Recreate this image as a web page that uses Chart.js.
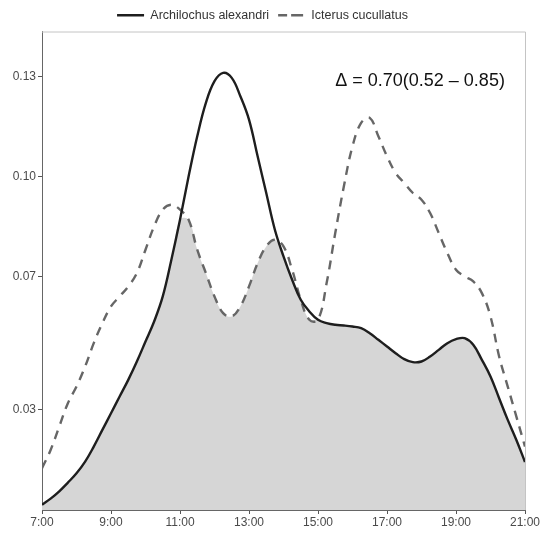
<!DOCTYPE html>
<html>
<head>
<meta charset="utf-8">
<script src="https://cdn.jsdelivr.net/npm/chart.js@4.4.1/dist/chart.umd.min.js"></script>
<style>
  html, body { margin: 0; padding: 0; background: #fff; }
  #wrap { width: 545px; height: 536px; }
</style>
</head>
<body>
<div id="wrap"><canvas id="c"></canvas></div>
<script>
// Heures (grille commune aux deux courbes)
const hours = [
  7, 7.25, 7.5, 7.75, 8, 8.25, 8.5, 8.75, 9, 9.25, 9.5, 9.75,
  10, 10.25, 10.5, 10.75, 11, 11.25, 11.5, 11.75, 12, 12.25, 12.5, 12.75,
  13, 13.25, 13.5, 13.75, 14, 14.25, 14.5, 14.75, 15, 15.25, 15.5, 15.75,
  16, 16.25, 16.5, 16.75, 17, 17.25, 17.5, 17.75, 18, 18.25, 18.5, 18.75,
  19, 19.25, 19.5, 19.75, 20, 20.25, 20.5, 20.75, 21
];

// Densité d'activité - Archilochus alexandri (trait plein)
const archilochus = [
  0.0016, 0.0034, 0.0056, 0.0082, 0.0110, 0.0145, 0.0190, 0.0240, 0.0290, 0.0340, 0.0390, 0.0445,
  0.0505, 0.0565, 0.0640, 0.0750, 0.0870, 0.1000, 0.1120, 0.1220, 0.1285, 0.1310, 0.1295, 0.1240,
  0.1170, 0.1060, 0.0950, 0.0840, 0.0760, 0.0690, 0.0630, 0.0595, 0.0570, 0.0560, 0.0555, 0.0553,
  0.0550, 0.0545, 0.0530, 0.0510, 0.0490, 0.0470, 0.0452, 0.0443, 0.0445, 0.0460, 0.0480, 0.0500,
  0.0512, 0.0515, 0.0495, 0.0450, 0.0400, 0.0335, 0.0270, 0.0210, 0.0144
];

// Densité d'activité - Icterus cucullatus (tirets)
const icterus = [
  0.0125, 0.0180, 0.0250, 0.0320, 0.0370, 0.0430, 0.0500, 0.0560, 0.0610, 0.0640, 0.0670, 0.0710,
  0.0780, 0.0850, 0.0900, 0.0915, 0.0900, 0.0870, 0.0780, 0.0710, 0.0640, 0.0590, 0.0580, 0.0610,
  0.0670, 0.0740, 0.0790, 0.0810, 0.0790, 0.0720, 0.0630, 0.0570, 0.0570, 0.0680, 0.0830, 0.0970,
  0.1090, 0.1160, 0.1175, 0.1120, 0.1060, 0.1010, 0.0980, 0.0950, 0.0930, 0.0890, 0.0830, 0.0770,
  0.0720, 0.0700, 0.0685, 0.0650, 0.0580, 0.0460, 0.0370, 0.0280, 0.0190
];

const seriesNames = ['Archilochus alexandri', 'Icterus cucullatus'];
const yTicks = [0.03, 0.07, 0.10, 0.13];
const xTicks = [7, 9, 11, 13, 15, 17, 19, 21];
const overlapText = '\u0394 = 0.70(0.52 \u2013 0.85)';

// Zone de chevauchement = minimum des deux densités
const overlap = hours.map((h, i) => Math.min(archilochus[i], icterus[i]));
const toPts = arr => hours.map((h, i) => ({ x: h, y: arr[i] }));

const FONT = '"Liberation Sans", Arial, sans-serif';

// Cadre : axes foncés à gauche/en bas, bordure claire en haut/à droite + texte du Δ
const framePlugin = {
  id: 'frame',
  beforeDatasetsDraw(chart) {
    const { ctx, chartArea: a } = chart;
    ctx.save();
    ctx.strokeStyle = '#c4c4c4';
    ctx.lineWidth = 1;
    ctx.beginPath();
    ctx.moveTo(a.left, a.top + 0.5);
    ctx.lineTo(a.right + 0.5, a.top + 0.5);
    ctx.lineTo(a.right + 0.5, a.bottom);
    ctx.stroke();
    ctx.restore();
  },
  afterDatasetsDraw(chart) {
    const { ctx, scales } = chart;
    ctx.save();
    ctx.font = '18px ' + FONT;
    ctx.fillStyle = '#111';
    ctx.textBaseline = 'middle';
    ctx.fillText(overlapText, scales.x.getPixelForValue(15.5), scales.y.getPixelForValue(0.1285));
    ctx.restore();
  }
};

new Chart(document.getElementById('c'), {
  type: 'line',
  data: {
    datasets: [
      {
        label: seriesNames[0],
        data: toPts(archilochus),
        borderColor: '#1e1e1e',
        backgroundColor: 'rgba(0,0,0,0)',
        borderWidth: 2.4,
        pointRadius: 0,
        fill: false,
        tension: 0.4,
        order: 1
      },
      {
        label: seriesNames[1],
        data: toPts(icterus),
        borderColor: '#666666',
        backgroundColor: 'rgba(0,0,0,0)',
        borderWidth: 2.4,
        borderDash: [9, 7],
        pointRadius: 0,
        fill: false,
        tension: 0.4,
        order: 2
      },
      {
        label: 'overlap',
        data: toPts(overlap),
        borderWidth: 0,
        borderColor: 'rgba(0,0,0,0)',
        backgroundColor: '#d6d6d6',
        pointRadius: 0,
        fill: 'origin',
        tension: 0.4,
        order: 3
      }
    ]
  },
  options: {
    responsive: true,
    maintainAspectRatio: false,
    animation: false,
    layout: { padding: { left: 0, right: 20, top: 0, bottom: 0 } },
    scales: {
      x: {
        type: 'linear',
        min: 7,
        max: 21,
        afterBuildTicks: s => { s.ticks = xTicks.map(v => ({ value: v })); },
        afterFit: s => { s.height = 26; },
        ticks: {
          callback: v => v + ':00',
          color: '#4a4a4a',
          font: { size: 12, family: FONT },
          padding: 1,
          maxRotation: 0
        },
        grid: { drawOnChartArea: false, tickLength: 4, color: '#555' },
        border: { color: '#666', width: 1 }
      },
      y: {
        min: 0,
        max: 0.1434,
        afterBuildTicks: s => { s.ticks = yTicks.map(v => ({ value: v })); },
        afterFit: s => { s.width = 42; },
        ticks: {
          callback: v => v.toFixed(2),
          color: '#4a4a4a',
          font: { size: 12, family: FONT },
          padding: 2
        },
        grid: { drawOnChartArea: false, tickLength: 4, color: '#555' },
        border: { color: '#666', width: 1 }
      }
    },
    plugins: {
      legend: {
        position: 'top',
        labels: {
          filter: item => item.datasetIndex < 2,
          boxWidth: 27,
          boxHeight: 0,
          padding: 9,
          color: '#333',
          font: { size: 12.5, family: FONT }
        }
      },
      tooltip: { enabled: false }
    }
  },
  plugins: [framePlugin]
});
</script>
</body>
</html>
